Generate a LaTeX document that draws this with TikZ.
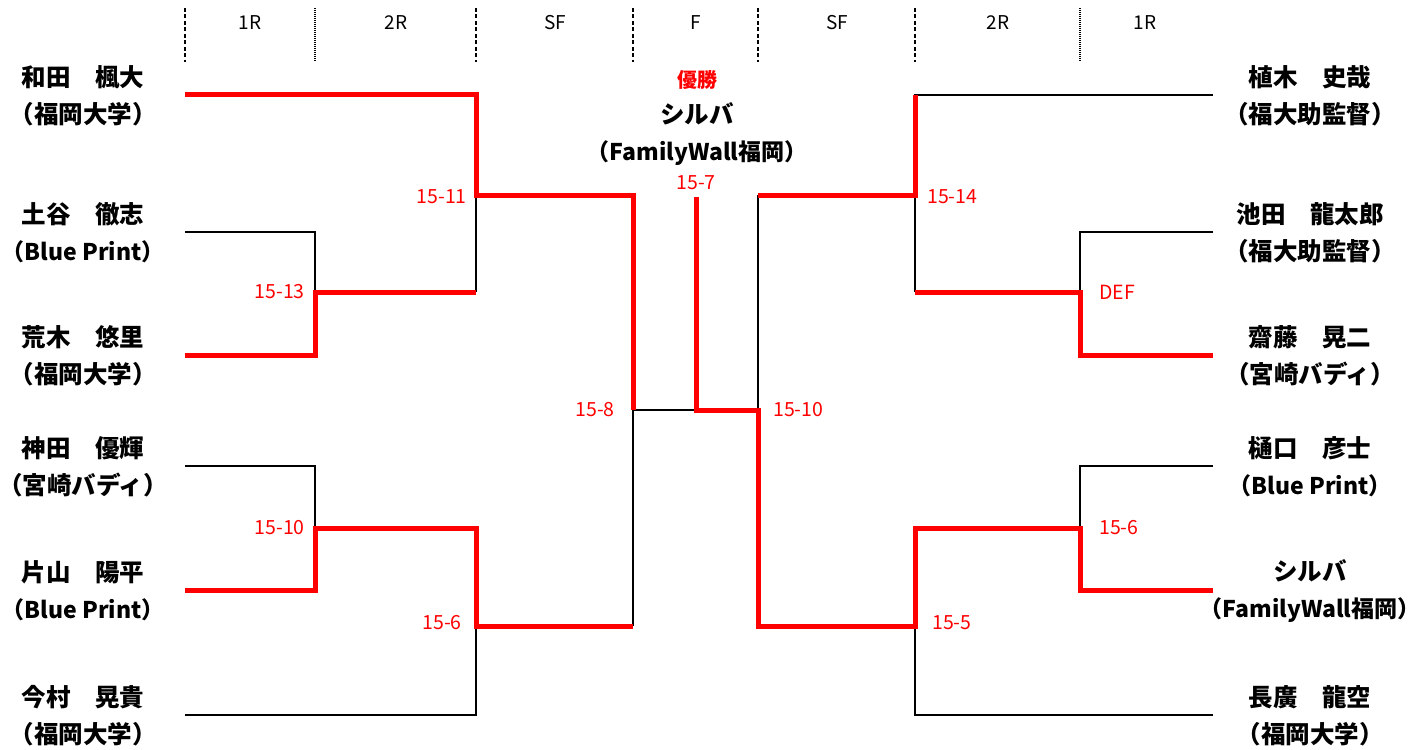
\documentclass[tikz,border=0pt]{standalone}
\usepackage{fontspec}
\setmainfont{Noto Sans CJK JP}
\newcommand{\latn}[1]{{\fontsize{23}{37}\selectfont #1}}
\begin{document}
\begin{tikzpicture}[x=1pt,y=-1pt,
  thin line/.style={black,line width=1.5pt},
  win/.style={red,line width=5pt},
  hdrline/.style={black,line width=1.2pt,dash pattern=on 4pt off 2.5pt},
  hdrdot/.style={black,line width=1.2pt,dash pattern=on 1pt off 1pt},
  hdr/.style={font=\fontsize{19}{22}\selectfont},
  player/.style={font=\bfseries\fontsize{24.5}{37}\selectfont,align=center,inner sep=0pt},
  score/.style={red,font=\fontsize{19.5}{22}\selectfont,inner sep=0pt}]
\useasboundingbox (0,0) rectangle (1423,749);
% header
\foreach \x/\s in {185/hdrline,315/hdrdot,476/hdrline,633/hdrline,758/hdrline,915/hdrline,1080/hdrdot}
  {\coordinate (ht\x) at (\x,8); \coordinate (hb\x) at (\x,62); \draw[\s] (ht\x) -- (hb\x);}
\node[hdr] (h1) at (250,23) {1R};
\node[hdr] (h2) at (396,23) {2R};
\node[hdr] (h3) at (555,23) {SF};
\node[hdr] (h4) at (696,23) {F};
\node[hdr] (h5) at (837,23) {SF};
\node[hdr] (h6) at (998,23) {2R};
\node[hdr] (h7) at (1145,23) {1R};
% coordinates
\coordinate (p1) at (185,95);  \coordinate (p2) at (185,232); \coordinate (p3) at (185,355);
\coordinate (p4) at (185,466); \coordinate (p5) at (185,590); \coordinate (p6) at (185,715);
\coordinate (a1) at (315,232); \coordinate (a2) at (315,355); \coordinate (a3) at (315,292);
\coordinate (b1) at (315,466); \coordinate (b2) at (315,590); \coordinate (b3) at (315,528);
\coordinate (c1) at (476,95);  \coordinate (c2) at (476,292); \coordinate (c3) at (476,195);
\coordinate (d1) at (476,528); \coordinate (d2) at (476,715); \coordinate (d3) at (476,626);
\coordinate (e1) at (633,195); \coordinate (e2) at (633,626); \coordinate (e3) at (633,410);
\coordinate (ft) at (696,197); \coordinate (f1) at (696,410);
\coordinate (g1) at (758,195); \coordinate (g2) at (758,626); \coordinate (g3) at (758,410);
\coordinate (i1h) at (915,95); \coordinate (i2h) at (915,292); \coordinate (i3h) at (915,195);
\coordinate (j1) at (915,528); \coordinate (j2) at (915,715); \coordinate (j3) at (915,626);
\coordinate (k1) at (1080,232); \coordinate (k2) at (1080,355); \coordinate (k3) at (1080,292);
\coordinate (m1) at (1080,466); \coordinate (m2) at (1080,590); \coordinate (m3) at (1080,528);
\coordinate (q1) at (1213,95);  \coordinate (q2) at (1213,232); \coordinate (q3) at (1213,355);
\coordinate (q4) at (1213,466); \coordinate (q5) at (1213,590); \coordinate (q6) at (1213,715);
% black lines
\draw[thin line] (p2) -- (a1) -- (a2);
\draw[thin line] (c1) -- (c2);
\draw[thin line] (p4) -- (b1) -- (b2);
\draw[thin line] (p6) -- (d2) -- (d1);
\draw[thin line] (e1) -- (e2);
\draw[thin line] (e3) -- (f1);
\draw[thin line] (g1) -- (g2);
\draw[thin line] (q1) -- (i1h) -- (i2h);
\draw[thin line] (q2) -- (k1) -- (k2);
\draw[thin line] (q4) -- (m1) -- (m2);
\draw[thin line] (q6) -- (j2) -- (j1);
% red winner lines
\draw[win] (p3) -- (a2) -- (a3) -- (c2);
\draw[win] (p1) -- (c1) -- (c3) -- (e1) -- (e3);
\draw[win] (p5) -- (b2) -- (b3) -- (d1) -- (d3) -- (e2);
\draw[win] (ft) -- (f1) -- (g3) -- (g2) -- (j3) -- (j1) -- (m3) -- (m2) -- (q5);
\draw[win] (i1h) -- (i3h) -- (g1);
\draw[win] (q3) -- (k2) -- (k3) -- (i2h);
% scores
\node[score,anchor=east] (s1) at (467,197) {15-11};
\node[score,anchor=east] (s2) at (305,292) {15-13};
\node[score,anchor=east] (s3) at (615,410) {15-8};
\node[score,anchor=east] (s4) at (305,528) {15-10};
\node[score,anchor=east] (s5) at (462,623) {15-6};
\node[score] (s6) at (696,183) {15-7};
\node[score,anchor=west] (s7) at (773,410) {15-10};
\node[score,anchor=west] (s8) at (927,197) {15-14};
\node[score,anchor=west] (s9) at (1099,292) {DEF};
\node[score,anchor=west] (s10) at (1099,528) {15-6};
\node[score,anchor=west] (s11) at (932,623) {15-5};
% winner
\node[red,font=\bfseries\fontsize{20}{22}\selectfont] (champ) at (697,80) {優勝};
\node[player] (cw) at (697,134) {シルバ\\\latn{（FamilyWall福岡）}};
% left players
\node[player] (n1) at (83,96) {和田　楓大\\（福岡大学）};
\node[player] (n2) at (83,233) {土谷　徹志\\\latn{（Blue Print）}};
\node[player] (n3) at (83,356) {荒木　悠里\\（福岡大学）};
\node[player] (n4) at (83,467) {神田　優輝\\（宮崎バディ）};
\node[player] (n5) at (83,591) {片山　陽平\\\latn{（Blue Print）}};
\node[player] (n6) at (83,716) {今村　晃貴\\（福岡大学）};
% right players
\node[player] (r1) at (1310,96) {植木　史哉\\（福大助監督）};
\node[player] (r2) at (1310,233) {池田　龍太郎\\（福大助監督）};
\node[player] (r3) at (1310,356) {齋藤　晃二\\（宮崎バディ）};
\node[player] (r4) at (1310,467) {樋口　彦士\\\latn{（Blue Print）}};
\node[player] (r5) at (1310,591) {シルバ\\\latn{（FamilyWall福岡）}};
\node[player] (r6) at (1310,716) {長廣　龍空\\（福岡大学）};
\end{tikzpicture}
\end{document}
